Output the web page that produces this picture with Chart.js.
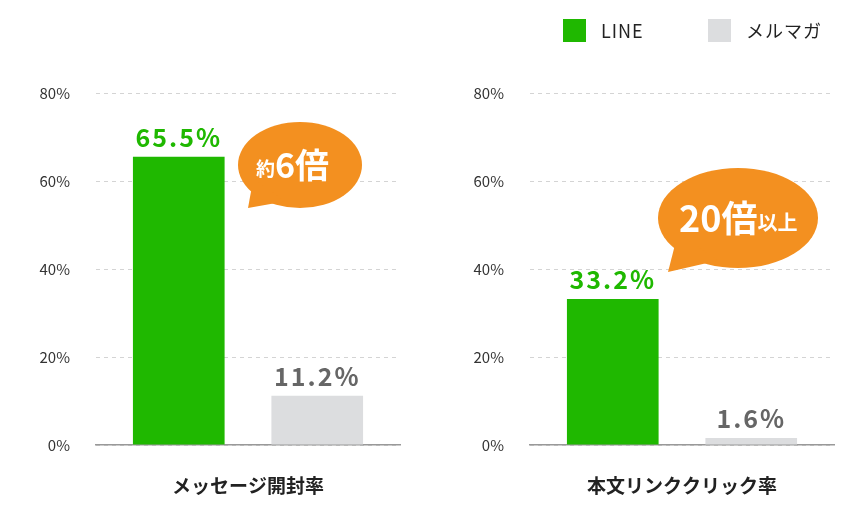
<!DOCTYPE html>
<html><head><meta charset="utf-8">
<script src="https://cdn.jsdelivr.net/npm/chart.js@4"></script>
<style>
body{margin:0;width:868px;height:516px;background:#fff;position:relative;overflow:hidden;font-family:"Noto Sans CJK JP",sans-serif}
.c{position:absolute;top:0;width:434px;height:516px}
.lg{position:absolute;top:17px;font-size:18px;letter-spacing:1px;color:#222;display:flex;align-items:center}
.lg i{display:inline-block;width:23px;height:23px;margin-right:15px}
</style></head><body>
<div class="c" style="left:0"><canvas id="c1"></canvas></div>
<div class="c" style="left:434px"><canvas id="c2"></canvas></div>
<div class="lg" style="left:563px"><i style="background:#1fb800"></i>LINE</div>
<div class="lg" style="left:708px"><i style="background:#dcdddf"></i>メルマガ</div>
<script>
const seriesNames = ["LINE", "メルマガ"];
const openRate = [65.5, 11.2];
const clickRate = [33.2, 1.6];
const yTicks = [0, 20, 40, 60, 80];
const FONT = '"Noto Sans CJK JP", sans-serif';

// value labels and orange speech bubble
const labelPlugin = {
    id: "labels",
    afterDatasetsDraw(chart, args, opts) {
        const ctx = chart.ctx;
        ctx.save();
        ctx.textAlign = "center";
        ctx.textBaseline = "alphabetic";
        ctx.font = "bold 25px " + FONT;
        ctx.letterSpacing = "2px";
        chart.data.datasets.forEach((ds, i) => {
            const bar = chart.getDatasetMeta(i).data[0];
            ctx.fillStyle = i === 0 ? "#1fb800" : "#666";
            ctx.fillText(ds.data[0].toFixed(1) + "%", bar.x, bar.y - 10);
        });
        ctx.letterSpacing = "0px";
        const b = opts.bubble;
        ctx.fillStyle = "#f39020";
        ctx.beginPath();
        ctx.ellipse(b.x, b.y, b.rx, b.ry, 0, 0, Math.PI * 2);
        ctx.fill();
        ctx.beginPath();
        ctx.moveTo(b.x - b.rx * 0.75, b.y + b.ry * 0.3);
        ctx.lineTo(b.tx, b.ty);
        ctx.lineTo(b.x - b.rx * 0.25, b.y + b.ry * 0.85);
        ctx.fill();
        ctx.fillStyle = "#fff";
        ctx.textAlign = "left";
        ctx.textBaseline = "middle";
        let x = b.x - b.w / 2;
        b.parts.forEach(p => {
            ctx.font = "bold " + p[1] + "px " + FONT;
            ctx.fillText(p[0], x, b.y + (p[1] < 25 ? 4 : 0));
            x += ctx.measureText(p[0]).width;
        });
        ctx.restore();
    }
};

function renderPanel(canvasId, category, values, bubble) {
    new Chart(document.getElementById(canvasId), {
        type: "bar",
        data: {
            labels: [category],
            datasets: seriesNames.map((n, i) => ({
                label: n,
                data: [values[i]],
                backgroundColor: i === 0 ? "#1fb800" : "#dcdddf",
                categoryPercentage: 0.911,
                barPercentage: 0.662
            }))
        },
        options: {
            responsive: true,
            maintainAspectRatio: false,
            animation: false,
            layout: { padding: { left: 0, right: 34, top: 93, bottom: 0 } },
            scales: {
                x: {
                    grid: { display: false },
                    border: { color: "#999", width: 1.5 },
                    ticks: { color: "#222", font: { family: FONT, size: 19, weight: "bold" }, padding: 21 },
                    afterFit: s => { s.height = 71; }
                },
                y: {
                    min: 0, max: 80,
                    afterBuildTicks: s => { s.ticks = yTicks.map(v => ({ value: v })); },
                    grid: { color: "#d4d4d4", drawTicks: false },
                    border: { display: false, dash: [4, 4] },
                    ticks: { color: "#333", font: { family: FONT, size: 15 }, padding: 26, callback: v => v + "%" },
                    afterFit: s => { s.width = 96; }
                }
            },
            plugins: {
                legend: { display: false },
                tooltip: { enabled: false },
                labels: { bubble: bubble }
            }
        },
        plugins: [labelPlugin]
    });
}

renderPanel("c1", "メッセージ開封率", openRate,
    { x: 300, y: 165, rx: 62, ry: 43, tx: 248, ty: 208, w: 88, parts: [["約", 19], ["6倍", 34]] });
renderPanel("c2", "本文リンククリック率", clickRate,
    { x: 304, y: 218, rx: 80, ry: 50, tx: 234, ty: 272, w: 118, parts: [["20倍", 36], ["以上", 20]] });
</script>
</body></html>
